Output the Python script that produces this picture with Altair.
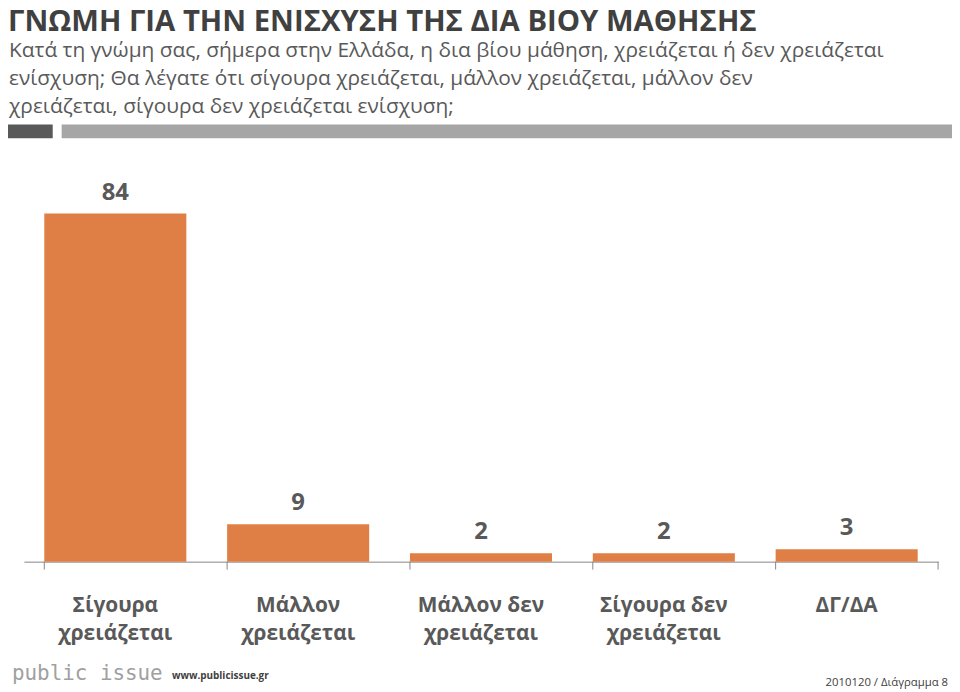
import altair as alt
import pandas as pd

categories = ["Σίγουρα χρειάζεται", "Μάλλον χρειάζεται", "Μάλλον δεν χρειάζεται",
              "Σίγουρα δεν χρειάζεται", "ΔΓ/ΔΑ"]
values = [84, 9, 2, 2, 3]

title_text = "ΓΝΩΜΗ ΓΙΑ ΤΗΝ ΕΝΙΣΧΥΣΗ ΤΗΣ ΔΙΑ ΒΙΟΥ ΜΑΘΗΣΗΣ"
subtitle_lines = [
    "Κατά τη γνώμη σας, σήμερα στην Ελλάδα, η δια βίου μάθηση, χρειάζεται ή δεν χρειάζεται",
    "ενίσχυση; Θα λέγατε ότι σίγουρα χρειάζεται, μάλλον χρειάζεται, μάλλον δεν",
    "χρειάζεται, σίγουρα δεν χρειάζεται ενίσχυση;",
]
logo_text = "public issue"
site_text = "www.publicissue.gr"
ref_text = "2010120 / Διάγραμμα 8"

df = pd.DataFrame({"category": categories, "value": values})

FONT = "Open Sans"
W, H = 920, 417

label_expr = ("lastindexof(datum.label,' ') > 0 ? "
              "[substring(datum.label,0,lastindexof(datum.label,' ')), "
              "substring(datum.label,lastindexof(datum.label,' ')+1)] : datum.label")

x_enc = alt.X(
    "category:N", sort=categories, title=None,
    scale=alt.Scale(paddingInner=0.223, paddingOuter=0.1115),
    axis=alt.Axis(
        labelExpr=label_expr, labelAngle=0, labelFont=FONT, labelFontWeight="bold",
        labelFontSize=21, labelColor="#595959", labelLineHeight=28,
        labelPadding=33, ticks=False, tickSize=0, domainColor="#868686",
        domainWidth=1, grid=False, labelLimit=300,
    ),
)
y_enc = alt.Y("value:Q", scale=alt.Scale(domain=[0, 100]), axis=None)

base = alt.Chart(df)

bars = base.mark_bar(color="#E07F45").encode(x=x_enc, y=y_enc)
vals = base.mark_text(dy=-14, baseline="alphabetic", font=FONT, fontSize=24,
                      fontWeight="bold", color="#595959").encode(
    x=alt.X("category:N", sort=categories), y=y_enc, text="value:Q")
ticks = base.mark_rule(color="#868686").encode(
    x=alt.X("category:N", sort=categories, bandPosition=0),
    y=alt.value(H), y2=alt.value(H + 8))

one = alt.Data(values=[{}])
last_tick = alt.Chart(one).mark_rule(color="#868686").encode(
    x=alt.value(W), y=alt.value(H), y2=alt.value(H + 8))

def txt(s, x, y, size, weight="normal", color="#404040", align="left", font=FONT):
    return alt.Chart(one).mark_text(align=align, baseline="alphabetic", font=font,
                                    fontSize=size, fontWeight=weight, color=color).encode(
        x=alt.value(x), y=alt.value(y), text=alt.value(s))

title = txt(title_text, -16, -117, 29.5, "bold", "#404040")
subs = [txt(s, -15, y, 21, "normal", "#595959")
        for s, y in zip(subtitle_lines, [-91, -63, -35])]

dark_bar = alt.Chart(one).mark_rect(color="#595959").encode(
    x=alt.value(-23), x2=alt.value(29), y=alt.value(-23), y2=alt.value(-9))
light_bar = alt.Chart(one).mark_rect(color="#A6A6A6").encode(
    x=alt.value(38), x2=alt.value(934), y=alt.value(-23), y2=alt.value(-9))

logo = txt(logo_text, -12, 536, 21, "normal", "#A0A0A0", font="DejaVu Sans Mono")
site = txt(site_text, 149, 535, 10, "bold", "#404040")
ref = txt(ref_text, 930, 542, 11.4, "normal", "#404040", align="right")

chart = alt.layer(
    bars, vals, ticks, last_tick, title, *subs, dark_bar, light_bar, logo, site, ref
).properties(
    width=W, height=H,
    autosize=alt.AutoSizeParams(type="none"),
    padding={"left": 16, "top": 138, "right": 14, "bottom": 129},
).configure_view(stroke=None)

chart.save("out.html", embed_options={"renderer": "svg", "actions": False})
